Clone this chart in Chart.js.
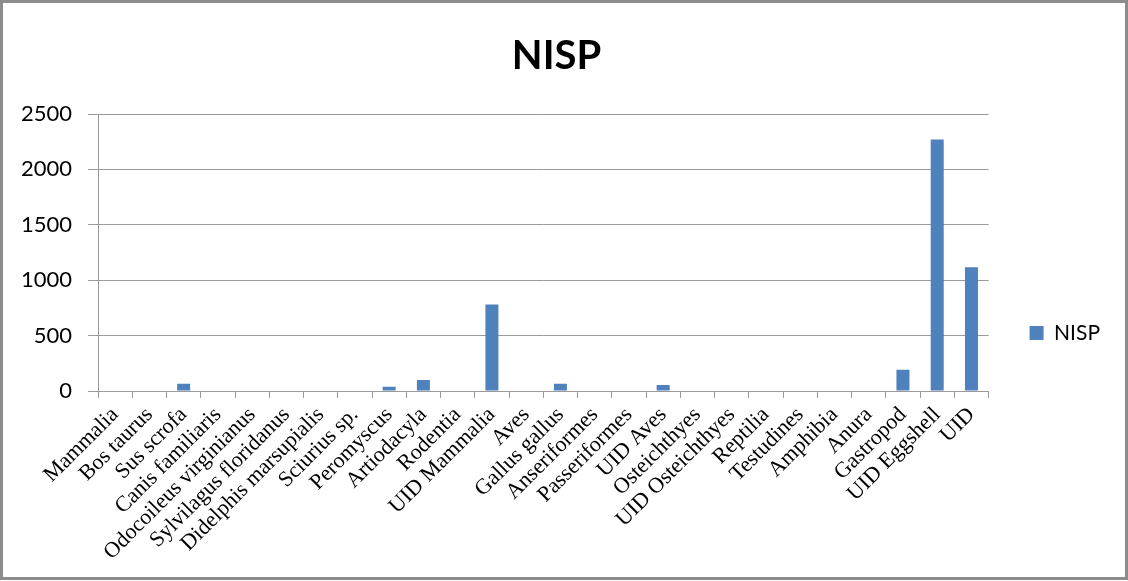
<!DOCTYPE html>
<html>
<head>
<meta charset="utf-8">
<script src="https://cdn.jsdelivr.net/npm/chart.js@4.4.0/dist/chart.umd.min.js"></script>
<style>
  html, body { margin: 0; padding: 0; background: #fff; }
  #wrap { position: absolute; left: 0; top: 0; width: 1128px; height: 580px; box-sizing: border-box; border: 3px solid #8c8c8c; background: #fff; }
  canvas { display: block; }
</style>
</head>
<body>
<div id="wrap"><canvas id="c"></canvas></div>
<script>
const categories = ["Mammalia", "Bos taurus", "Sus scrofa", "Canis familiaris", "Odocoileus virginianus",
  "Sylvilagus floridanus", "Didelphis marsupialis", "Sciurius sp.", "Peromyscus", "Artiodacyla",
  "Rodentia", "UID Mammalia", "Aves", "Gallus gallus", "Anseriformes", "Passeriformes", "UID Aves",
  "Osteichthyes", "UID Osteichthyes", "Reptilia", "Testudines", "Amphibia", "Anura", "Gastropod",
  "UID Eggshell", "UID"];
const nispValues = [0, 0, 66, 0, 0, 0, 0, 0, 39, 99, 0, 781, 0, 66, 0, 0, 54, 0, 0, 0, 0, 0, 0, 192, 2270, 1117];
const seriesName = "NISP";
const chartTitle = "NISP";
const yMax = 2500;
const yStep = 500;

const gridColor = "#9a9a9a";

new Chart(document.getElementById("c"), {
  type: "bar",
  data: {
    labels: categories,
    datasets: [{
      label: seriesName,
      data: nispValues,
      backgroundColor: "#4F81BD",
      borderWidth: 0,
      categoryPercentage: 1,
      barPercentage: 0.38
    }]
  },
  options: {
    responsive: true,
    maintainAspectRatio: false,
    animation: false,
    layout: { padding: { left: 0, right: 15, top: 0, bottom: 0 } },
    plugins: {
      title: {
        display: true,
        text: chartTitle,
        color: "#000",
        font: { family: "Lato", size: 40, weight: "bold" },
        padding: { top: 29, bottom: 34 }
      },
      legend: {
        display: true,
        position: "right",
        align: "center",
        title: {
          display: true,
          text: " ",
          font: { family: "Lato", size: 10 },
          padding: { top: 0, bottom: 74 }
        },
        labels: {
          color: "#000",
          font: { family: "Lato", size: 21 },
          boxWidth: 14,
          boxHeight: 14,
          padding: 41
        }
      },
      tooltip: { enabled: false }
    },
    scales: {
      x: {
        afterFit: (s) => { s.height = 186; },
        grid: { display: true, drawOnChartArea: false, drawTicks: true, tickLength: 7, color: gridColor, offset: true },
        border: { display: true, color: gridColor, width: 1 },
        ticks: {
          autoSkip: false,
          maxRotation: 45,
          minRotation: 45,
          padding: 4,
          color: "#000",
          font: { family: "Liberation Serif", size: 22 }
        }
      },
      y: {
        min: 0,
        max: yMax,
        afterFit: (s) => { s.width = 95; },
        grid: { color: gridColor, drawTicks: true, tickLength: 10 },
        border: { display: true, color: gridColor, width: 1 },
        ticks: {
          stepSize: yStep,
          padding: 16,
          color: "#000",
          font: { family: "Lato", size: 22 },
          callback: (v) => String(v)
        }
      }
    }
  }
});
</script>
</body>
</html>
